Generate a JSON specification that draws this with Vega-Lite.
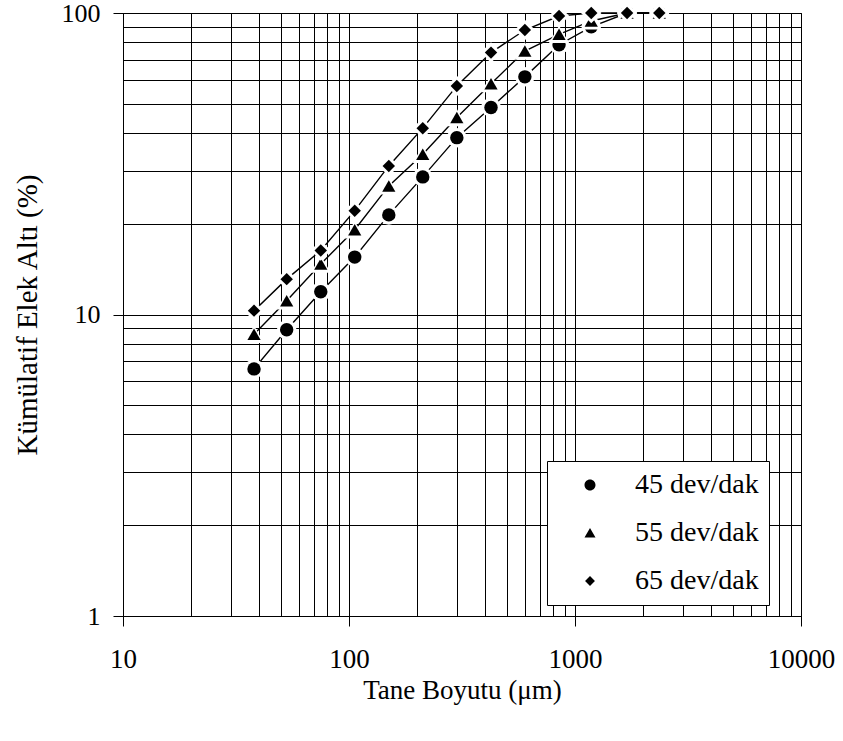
{
  "$schema": "https://vega.github.io/schema/vega-lite/v6.json",
  "width": 678,
  "height": 603,
  "autosize": {"type": "none"},
  "padding": {"left": 123, "top": 13, "right": 42, "bottom": 125},
  "background": "white",
  "config": {
    "view": {"stroke": "black", "strokeWidth": 1},
    "font": "Liberation Serif"
  },
  "data": {
    "values": [
      {"d": 38, "s": "45 dev/dak", "p": 6.6}, {"d": 53, "s": "45 dev/dak", "p": 8.9}, {"d": 75, "s": "45 dev/dak", "p": 11.9},
      {"d": 106, "s": "45 dev/dak", "p": 15.5}, {"d": 150, "s": "45 dev/dak", "p": 21.4}, {"d": 212, "s": "45 dev/dak", "p": 28.6},
      {"d": 300, "s": "45 dev/dak", "p": 38.6}, {"d": 425, "s": "45 dev/dak", "p": 48.6}, {"d": 600, "s": "45 dev/dak", "p": 61.4},
      {"d": 850, "s": "45 dev/dak", "p": 78.5}, {"d": 1180, "s": "45 dev/dak", "p": 90.0}, {"d": 1700, "s": "45 dev/dak", "p": 100},
      {"d": 2360, "s": "45 dev/dak", "p": 100},
      {"d": 38, "s": "55 dev/dak", "p": 8.6}, {"d": 53, "s": "55 dev/dak", "p": 11.1}, {"d": 75, "s": "55 dev/dak", "p": 14.7},
      {"d": 106, "s": "55 dev/dak", "p": 19.1}, {"d": 150, "s": "55 dev/dak", "p": 26.7}, {"d": 212, "s": "55 dev/dak", "p": 34.0},
      {"d": 300, "s": "55 dev/dak", "p": 45.0}, {"d": 425, "s": "55 dev/dak", "p": 58.3}, {"d": 600, "s": "55 dev/dak", "p": 74.8},
      {"d": 850, "s": "55 dev/dak", "p": 85.0}, {"d": 1180, "s": "55 dev/dak", "p": 94.1}, {"d": 1700, "s": "55 dev/dak", "p": 100},
      {"d": 2360, "s": "55 dev/dak", "p": 100},
      {"d": 38, "s": "65 dev/dak", "p": 10.3}, {"d": 53, "s": "65 dev/dak", "p": 13.1}, {"d": 75, "s": "65 dev/dak", "p": 16.3},
      {"d": 106, "s": "65 dev/dak", "p": 22.1}, {"d": 150, "s": "65 dev/dak", "p": 31.1}, {"d": 212, "s": "65 dev/dak", "p": 41.5},
      {"d": 300, "s": "65 dev/dak", "p": 57.3}, {"d": 425, "s": "65 dev/dak", "p": 73.9}, {"d": 600, "s": "65 dev/dak", "p": 87.8},
      {"d": 850, "s": "65 dev/dak", "p": 97.7}, {"d": 1180, "s": "65 dev/dak", "p": 100}, {"d": 1700, "s": "65 dev/dak", "p": 100},
      {"d": 2360, "s": "65 dev/dak", "p": 100}
    ]
  },
  "encoding": {
    "x": {
      "field": "d", "type": "quantitative",
      "scale": {"type": "log", "domain": [10, 10000], "nice": false},
      "axis": {
        "values": [10,20,30,40,50,60,70,80,90,100,200,300,400,500,600,700,800,900,1000,2000,3000,4000,5000,6000,7000,8000,9000,10000],
        "labelExpr": "(datum.value == 10 || datum.value == 100 || datum.value == 1000 || datum.value == 10000) ? format(datum.value, 'd') : ''",
        "grid": true, "gridColor": "black", "gridOpacity": 1, "gridWidth": 1,
        "domainColor": "black", "domainWidth": 1,
        "tickColor": "black", "tickSize": 10, "tickWidth": 1,
        "tickOpacity": {"condition": {"test": "datum.value == 10 || datum.value == 100 || datum.value == 1000 || datum.value == 10000", "value": 1}, "value": 0},
        "labelFont": "Liberation Serif", "labelFontSize": 27, "labelColor": "black", "labelPadding": 20,
        "labelOverlap": false, "labelFlush": false,
        "title": "Tane Boyutu (μm)", "titleFont": "Liberation Serif", "titleFontSize": 27, "titleFontWeight": "normal",
        "titleColor": "black", "titlePadding": 5
      }
    },
    "y": {
      "field": "p", "type": "quantitative",
      "scale": {"type": "log", "domain": [1, 100], "nice": false},
      "axis": {
        "values": [1,2,3,4,5,6,7,8,9,10,20,30,40,50,60,70,80,90,100],
        "labelExpr": "(datum.value == 1 || datum.value == 10 || datum.value == 100) ? format(datum.value, 'd') : ''",
        "grid": true, "gridColor": "black", "gridOpacity": 1, "gridWidth": 1,
        "domainColor": "black", "domainWidth": 1,
        "tickColor": "black", "tickSize": 10, "tickWidth": 1,
        "tickOpacity": {"condition": {"test": "datum.value == 1 || datum.value == 10 || datum.value == 100", "value": 1}, "value": 0},
        "labelFont": "Liberation Serif", "labelFontSize": 26, "labelColor": "black", "labelPadding": 13,
        "labelOverlap": false, "labelFlush": false,
        "title": "Kümülatif Elek Altı (%)", "titleFont": "Liberation Serif", "titleFontSize": 29, "titleFontWeight": "normal",
        "titleColor": "black", "titlePadding": 19
      }
    }
  },
  "resolve": {"scale": {"shape": "independent"}, "legend": {"shape": "independent"}},
  "layer": [
    {
      "mark": {"type": "point", "filled": false, "fill": "black", "stroke": "black", "strokeWidth": 1.2, "opacity": 0, "size": 10},
      "encoding": {"shape": {"field": "s", "type": "nominal",
        "scale": {"domain": ["45 dev/dak", "55 dev/dak", "65 dev/dak"], "range": [
          "M-6.2,0L-1.8,0M1.6,0L6.6,0M1,0A1,1,0,1,1,-1,0A1,1,0,1,1,1,0Z",
          "M-6.2,0L-1.8,0M1.6,0L6.6,0M0,-0.9L1,0.8L-1,0.8Z",
          "M-6.2,0L-1.8,0M1.6,0L6.6,0M0,-0.9L0.9,0L0,0.9L-0.9,0Z"
        ]},
        "legend": {
          "title": null, "orient": "none", "legendX": 424, "legendY": 448,
          "padding": 10, "strokeColor": "black", "fillColor": "white",
          "symbolSize": 121, "symbolOffset": 19, "labelOffset": 31,
          "labelFont": "Liberation Serif", "labelFontSize": 28, "labelColor": "black", "labelLimit": 300,
          "rowPadding": 20, "symbolFillColor": "black", "symbolStrokeColor": "black", "symbolStrokeWidth": 1.2, "symbolOpacity": 1,
          "encode": {"symbols": {"stroke": {"value": "black"}, "strokeWidth": {"value": 1.3}}}
        }}}
    },
    {
      "mark": {"type": "line", "color": "black", "strokeWidth": 1.4},
      "encoding": {"detail": {"field": "s"}}
    },
    {
      "transform": [{"filter": "datum.s == '45 dev/dak'"}],
      "mark": {"type": "point", "filled": true, "color": "white", "opacity": 1, "size": 380},
      "encoding": {"shape": {"field": "s", "type": "nominal", "legend": null,
        "scale": {"domain": ["45 dev/dak", "55 dev/dak", "65 dev/dak"], "range": ["circle", "triangle-up", "diamond"]}}}
    },
    {
      "transform": [{"filter": "datum.s == '45 dev/dak'"}],
      "mark": {"type": "point", "filled": true, "color": "black", "opacity": 1, "size": 180},
      "encoding": {"shape": {"field": "s", "type": "nominal", "legend": null,
        "scale": {"domain": ["45 dev/dak", "55 dev/dak", "65 dev/dak"], "range": ["circle", "triangle-up", "diamond"]}}}
    },
    {
      "transform": [{"filter": "datum.s == '55 dev/dak'"}],
      "mark": {"type": "point", "filled": true, "color": "white", "opacity": 1, "size": 400},
      "encoding": {"shape": {"field": "s", "type": "nominal", "legend": null,
        "scale": {"domain": ["45 dev/dak", "55 dev/dak", "65 dev/dak"], "range": ["circle", "triangle-up", "diamond"]}}}
    },
    {
      "transform": [{"filter": "datum.s == '55 dev/dak'"}],
      "mark": {"type": "point", "filled": true, "color": "black", "opacity": 1, "size": 175},
      "encoding": {"shape": {"field": "s", "type": "nominal", "legend": null,
        "scale": {"domain": ["45 dev/dak", "55 dev/dak", "65 dev/dak"], "range": ["circle", "triangle-up", "diamond"]}}}
    },
    {
      "transform": [{"filter": "datum.s == '65 dev/dak'"}],
      "mark": {"type": "point", "filled": true, "color": "white", "opacity": 1, "size": 420},
      "encoding": {"shape": {"field": "s", "type": "nominal", "legend": null,
        "scale": {"domain": ["45 dev/dak", "55 dev/dak", "65 dev/dak"], "range": ["circle", "triangle-up", "diamond"]}}}
    },
    {
      "transform": [{"filter": "datum.s == '65 dev/dak'"}],
      "mark": {"type": "point", "filled": true, "color": "black", "opacity": 1, "size": 155},
      "encoding": {"shape": {"field": "s", "type": "nominal", "legend": null,
        "scale": {"domain": ["45 dev/dak", "55 dev/dak", "65 dev/dak"], "range": ["circle", "triangle-up", "diamond"]}}}
    }
  ]
}
